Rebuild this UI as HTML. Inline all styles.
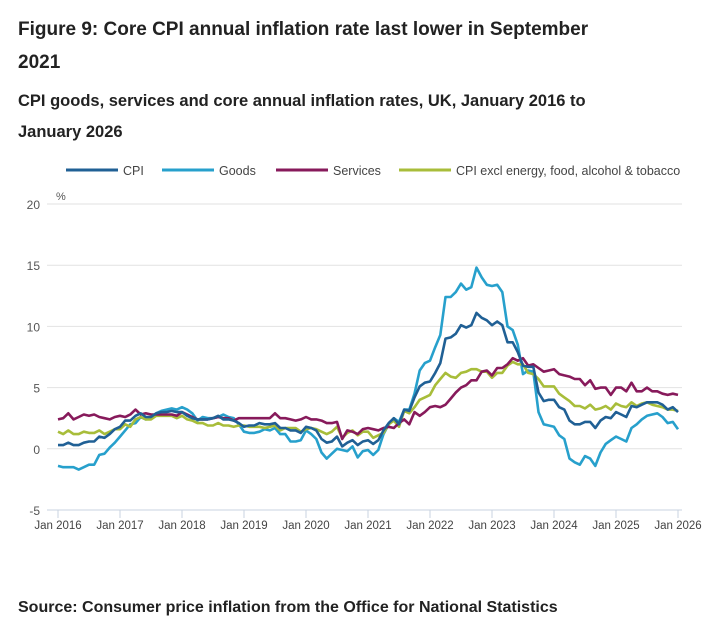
<!DOCTYPE html>
<html><head><meta charset="utf-8"><style>
body{margin:0;background:#fff;font-family:"Liberation Sans",sans-serif;color:#222}
#wrap{position:relative;width:726px;height:629px;overflow:hidden}
.t{position:absolute;left:18px;font-weight:bold;margin:0}
</style></head><body><div id="wrap">
<h1 class="t" style="top:13px;font-size:19px;line-height:33px;width:600px">Figure 9: Core CPI annual inflation rate last lower in September 2021</h1>
<h2 class="t" style="top:86px;font-size:16.5px;line-height:31px;width:600px">CPI goods, services and core annual inflation rates, UK, January 2016 to January 2026</h2>
<svg id="c" width="726" height="629" style="position:absolute;left:0;top:0"></svg>
<div class="t" style="top:599px;font-size:16px">Source: Consumer price inflation from the Office for National Statistics</div>
</div>
<script>
const yTicks=[-5,0,5,10,15,20];
const xLabels=["Jan 2016","Jan 2017","Jan 2018","Jan 2019","Jan 2020","Jan 2021","Jan 2022","Jan 2023","Jan 2024","Jan 2025","Jan 2026"];
const seriesNames=["CPI","Goods","Services","CPI excl energy, food, alcohol & tobacco"];
const seriesColors=["#206095","#27a0cc","#871a5b","#a8bd3a"];
const cpi=[0.3,0.3,0.5,0.3,0.3,0.5,0.6,0.6,1.0,0.9,1.2,1.6,
1.8,2.3,2.3,2.7,2.9,2.6,2.6,2.9,3.0,3.0,3.1,3.0,
3.0,2.7,2.5,2.4,2.4,2.4,2.5,2.7,2.4,2.4,2.3,2.1,
1.8,1.9,1.9,2.1,2.0,2.0,2.1,1.7,1.7,1.5,1.5,1.3,
1.8,1.7,1.5,0.8,0.5,0.6,1.0,0.2,0.5,0.7,0.3,0.6,
0.7,0.4,0.7,1.5,2.1,2.5,2.0,3.2,3.1,4.2,5.1,5.4,
5.5,6.2,7.0,9.0,9.1,9.4,10.1,9.9,10.1,11.1,10.7,10.5,
10.1,10.4,10.1,8.7,8.7,7.9,6.8,6.7,6.7,4.6,3.9,4.0,
4.0,3.4,3.2,2.3,2.0,2.0,2.2,2.2,1.7,2.3,2.6,2.5,
3.0,2.8,2.6,3.5,3.4,3.6,3.8,3.8,3.8,3.6,3.2,3.4,3.0];
const goods=[-1.4,-1.5,-1.5,-1.5,-1.7,-1.5,-1.3,-1.3,-0.5,-0.4,0.1,0.5,
1.0,1.5,2.0,2.1,2.6,2.4,2.6,2.9,3.1,3.2,3.3,3.2,
3.4,3.2,2.9,2.3,2.6,2.5,2.5,2.6,2.8,2.6,2.5,2.0,
1.4,1.3,1.3,1.4,1.6,1.5,1.7,1.2,1.2,0.6,0.6,0.7,
1.5,1.2,0.8,-0.3,-0.8,-0.4,0.0,-0.1,-0.2,0.2,-0.7,-0.2,
-0.1,-0.5,-0.1,1.2,2.0,2.5,2.2,3.2,3.2,4.5,6.4,7.0,
7.2,8.3,9.3,12.4,12.4,12.8,13.5,13.0,13.2,14.8,14.0,13.4,
13.3,13.4,12.8,10.0,9.7,8.5,6.1,6.4,6.3,3.0,2.0,1.9,
1.8,1.1,0.8,-0.8,-1.1,-1.3,-0.6,-0.8,-1.4,-0.3,0.4,0.7,
1.0,0.8,0.6,1.7,2.0,2.4,2.7,2.8,2.9,2.6,2.1,2.2,1.6];
const services=[2.4,2.5,2.9,2.4,2.6,2.8,2.7,2.8,2.6,2.5,2.4,2.6,
2.7,2.6,2.8,3.2,2.8,2.9,2.8,2.8,2.8,2.8,2.8,2.7,
3.0,2.8,2.6,2.4,2.4,2.4,2.5,2.6,2.5,2.5,2.3,2.5,
2.5,2.5,2.5,2.5,2.5,2.5,2.9,2.5,2.5,2.4,2.3,2.4,
2.6,2.4,2.4,2.3,2.1,2.1,2.2,0.8,1.5,1.4,1.2,1.6,
1.7,1.6,1.5,1.7,1.8,1.7,2.1,2.4,2.0,3.0,2.7,3.0,
3.4,3.5,3.4,3.6,4.1,4.6,5.0,5.2,5.6,5.6,6.3,6.4,
6.0,6.6,6.6,6.9,7.4,7.2,7.4,6.8,6.9,6.6,6.3,6.4,
6.5,6.1,6.0,5.9,5.7,5.7,5.2,5.6,4.9,5.0,5.0,4.4,
5.0,5.0,4.7,5.4,4.7,4.7,5.0,4.7,4.7,4.5,4.4,4.5,4.4];
const core=[1.4,1.2,1.5,1.2,1.2,1.4,1.3,1.3,1.5,1.2,1.4,1.6,
1.6,2.0,1.8,2.4,2.6,2.4,2.4,2.7,2.7,2.7,2.7,2.5,
2.7,2.4,2.3,2.1,2.1,1.9,1.9,2.1,1.9,1.9,1.8,1.9,
1.9,1.8,1.8,1.8,1.7,1.8,1.9,1.5,1.7,1.7,1.7,1.4,
1.6,1.7,1.6,1.4,1.2,1.4,1.8,0.9,1.3,1.5,1.1,1.4,
1.4,0.9,1.1,1.3,2.0,2.3,1.8,3.1,2.9,3.4,4.0,4.2,
4.4,5.2,5.7,6.2,5.9,5.8,6.2,6.3,6.5,6.5,6.3,6.3,
5.8,6.2,6.2,6.8,7.1,6.9,6.9,6.2,6.1,5.7,5.1,5.1,
5.1,4.5,4.2,3.9,3.5,3.5,3.3,3.6,3.2,3.3,3.5,3.2,
3.7,3.5,3.4,3.8,3.5,3.7,3.8,3.6,3.5,3.4,3.2,3.2,3.1];
const allSeries=[cpi,goods,services,core];
const X0=58,X1=678,Y0=510,Y1=204;
const xS=i=>X0+(X1-X0)*i/120;
const yS=v=>Y0-(v+5)/25*(Y0-Y1);
const NS="http://www.w3.org/2000/svg",svg=document.getElementById('c');
function mk(t,a,p){const e=document.createElementNS(NS,t);for(const k in a)e.setAttribute(k,a[k]);(p||svg).appendChild(e);return e;}
yTicks.forEach(v=>{
 const g=mk('line',{x1:47,x2:682,y1:yS(v),y2:yS(v),stroke:v==-5?'#c8d3e0':'#e2e2e2','stroke-width':1});
 
 
 const t=mk('text',{x:40,y:yS(v)+5,'text-anchor':'end','font-size':12,fill:'#555','font-family':'Liberation Sans'});
 t.textContent=v;
 
 
});
const pc=mk('text',{x:56,y:200,'font-size':11,fill:'#555','font-family':'Liberation Sans'});pc.textContent='%';


xLabels.forEach((l,i)=>{
 const x=xS(i*12);
 const tk=mk('line',{x1:x,x2:x,y1:510,y2:518,stroke:'#c8d3e0'});
 
 
 const t=mk('text',{x:x,y:529,'text-anchor':'middle','font-size':11.5,fill:'#444','font-family':'Liberation Sans'});
 t.textContent=l;
 
 
});
[1,3,2,0].forEach(s=>{
 const d=allSeries[s].map((v,i)=>(i?'L':'M')+xS(i).toFixed(1)+','+yS(v).toFixed(1)).join('');
 const p=mk('path',{d:d,fill:'none',stroke:seriesColors[s],'stroke-width':2.6,'stroke-linejoin':'round'});
 
 
});
const legX=[66,162,276,399];
seriesNames.forEach((n,i)=>{
 const g=mk('g',{});
 
 
 mk('line',{x1:legX[i],x2:legX[i]+52,y1:170,y2:170,stroke:seriesColors[i],'stroke-width':3},g);
 const t=mk('text',{x:legX[i]+57,y:175,'font-size':12.5,fill:'#444','font-family':'Liberation Sans'},g);
 t.textContent=n;
});
</script></body></html>
